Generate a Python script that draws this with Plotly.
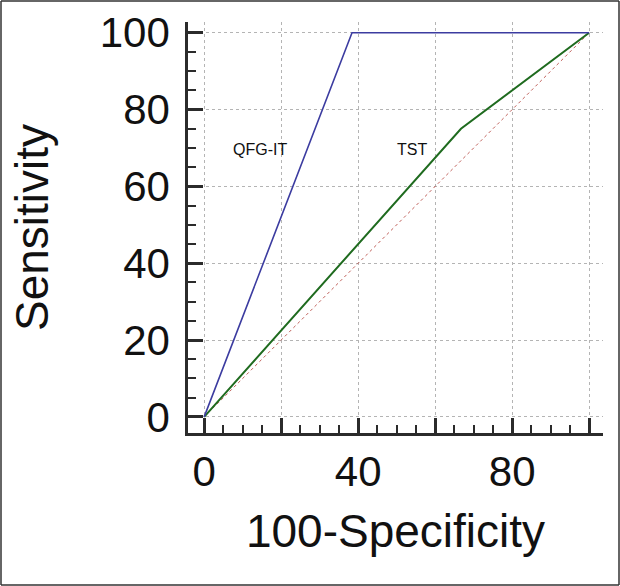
import plotly.graph_objects as go

# Data (100-Specificity, Sensitivity)
qfg_x = [0, 38.4, 100]
qfg_y = [0, 100, 100]
tst_x = [0, 66.7, 100]
tst_y = [0, 75, 100]
ref_x = [0, 100]
ref_y = [0, 100]

x_tickvals = [0, 20, 40, 60, 80, 100]
x_ticktext = ["0", "", "40", "", "80", ""]
y_tickvals = [0, 20, 40, 60, 80, 100]
y_ticktext = ["0", "20", "40", "60", "80", "100"]

labels = ["QFG-IT", "TST"]
label_x = [14.5, 54]
label_y = [69.5, 69.5]

FONT = "Liberation Sans, Arial, sans-serif"
AXC = "#2b2b2b"

fig = go.Figure()
fig.add_trace(go.Scatter(x=ref_x, y=ref_y, mode="lines",
                         line=dict(color="#c0605a", width=1, dash="dot"),
                         hoverinfo="skip"))
fig.add_trace(go.Scatter(x=tst_x, y=tst_y, mode="lines",
                         line=dict(color="#1f6b1f", width=2)))
fig.add_trace(go.Scatter(x=qfg_x, y=qfg_y, mode="lines",
                         line=dict(color="#3c3ca0", width=1.6)))

for t, lx, ly in zip(labels, label_x, label_y):
    fig.add_annotation(x=lx, y=ly, text=t, showarrow=False,
                       font=dict(size=16, color="#111111", family=FONT))

axis_common = dict(
    showline=True, linecolor=AXC, linewidth=2.5,
    ticks="inside", ticklen=15, tickwidth=2.5, tickcolor=AXC,
    showgrid=True, gridcolor="#b4b4b4", gridwidth=1, griddash="dot",
    zeroline=False, mirror=False, automargin=False,
    tickfont=dict(size=42, color="#111111", family=FONT),
    minor=dict(ticks="inside", tick0=0, dtick=5, ticklen=8, tickwidth=2,
               tickcolor=AXC, showgrid=False),
)

fig.update_xaxes(**axis_common, range=[-4.2, 103.6], tickmode="array",
                 tickvals=x_tickvals, ticktext=x_ticktext,
                 ticklabelstandoff=0,
                 title=dict(text="100-Specificity", standoff=21,
                            font=dict(size=46, color="#111111", family=FONT)))
fig.update_yaxes(**axis_common, range=[-4.2, 102.8], tickmode="array",
                 tickvals=y_tickvals, ticktext=y_ticktext,
                 ticklabelstandoff=7,
                 title=dict(text="Sensitivity", standoff=37,
                            font=dict(size=46, color="#111111", family=FONT)))

# outer frame around the whole image (pixel positions converted to paper units)
PL, PW, PB, PH = 188, 415, 433, 411
def px(v):
    return (v - PL) / PW
def py(v):
    return (PB - v) / PH
fl, fr, ft, fb = 1.0, 619.0, 1.0, 585.0
for x0, y0, x1, y1 in [(fl, ft, fr, ft), (fr, ft, fr, fb),
                       (fr, fb, fl, fb), (fl, fb, fl, ft)]:
    fig.add_shape(type="line", xref="paper", yref="paper",
                  x0=px(x0), y0=py(y0), x1=px(x1), y1=py(y1),
                  line=dict(color="#333333", width=1.5), layer="above")

fig.update_layout(
    width=620, height=586,
    margin=dict(l=188, r=17, t=22, b=153),
    paper_bgcolor="white", plot_bgcolor="white",
    showlegend=False,
)

fig.write_html("out.html", config={"displayModeBar": False},
               post_script="document.body.style.margin='0';document.body.style.padding='0';")
